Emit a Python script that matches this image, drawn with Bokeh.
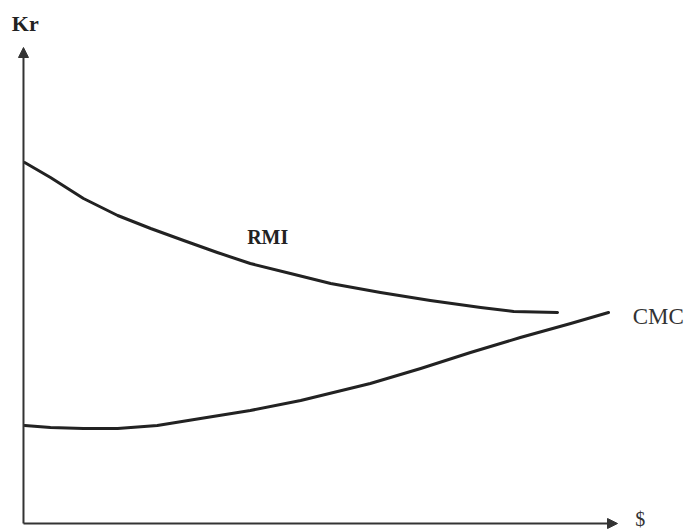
from bokeh.plotting import figure
from bokeh.models import Range1d, Arrow, NormalHead
from bokeh.core.properties import value
from bokeh.embed import file_html
from bokeh.resources import INLINE

# curve data (arbitrary units: $ on x, Kr on y)
rmi_x = [0.02, 0.45, 1.00, 1.57, 2.12, 2.67, 3.23, 3.78, 4.45, 5.12, 5.95, 6.78, 7.62, 8.17, 8.90]
rmi_y = [7.22, 6.92, 6.50, 6.16, 5.90, 5.66, 5.42, 5.20, 5.00, 4.80, 4.62, 4.46, 4.32, 4.24, 4.22]
cmc_x = [0.02, 0.45, 1.00, 1.57, 2.23, 2.95, 3.78, 4.62, 5.78, 6.62, 7.45, 8.28, 9.12, 9.75]
cmc_y = [1.96, 1.92, 1.90, 1.90, 1.96, 2.10, 2.26, 2.46, 2.80, 3.10, 3.42, 3.72, 4.00, 4.22]
labels = ["RMI", "CMC"]
axis_labels = ["Kr", "$"]

p = figure(width=691, height=532, output_backend="svg", toolbar_location=None,
           x_range=Range1d(-0.383, 11.133), y_range=Range1d(-0.18, 10.46),
           min_border=0)
p.axis.visible = False
p.grid.visible = False
p.outline_line_color = None

ink = "#222222"
axc = "#333333"
# axes with arrows
p.add_layout(Arrow(x_start=0, y_start=0, x_end=0, y_end=9.52, line_width=2, line_color=axc,
                   end=NormalHead(size=10, fill_color=axc, line_color=axc)))
p.add_layout(Arrow(x_start=0, y_start=0, x_end=9.9, y_end=0, line_width=2, line_color=axc,
                   end=NormalHead(size=10, fill_color=axc, line_color=axc)))

p.line(rmi_x, rmi_y, line_width=3, line_color=ink, line_join="round", line_cap="round")
p.line(cmc_x, cmc_y, line_width=3, line_color=ink, line_join="round", line_cap="round")

p.text(x=[4.07], y=[5.74], text=[labels[0]], text_align="center", text_baseline="middle",
       text_font=value("Liberation Serif"), text_font_size="20px", text_font_style="bold", text_color=ink)
p.text(x=[10.58], y=[4.14], text=[labels[1]], text_align="center", text_baseline="middle",
       text_font=value("Liberation Serif"), text_font_size="23px", text_color=axc)
p.text(x=[0.03], y=[10.0], text=[axis_labels[0]], text_align="center", text_baseline="middle",
       text_font=value("Liberation Serif"), text_font_size="22px", text_font_style="bold", text_color=ink)
p.text(x=[10.28], y=[0.1], text=[axis_labels[1]], text_align="center", text_baseline="middle",
       text_font=value("Liberation Serif"), text_font_size="20px", text_color=axc)

open("out.html", "w").write(file_html(p, INLINE))
